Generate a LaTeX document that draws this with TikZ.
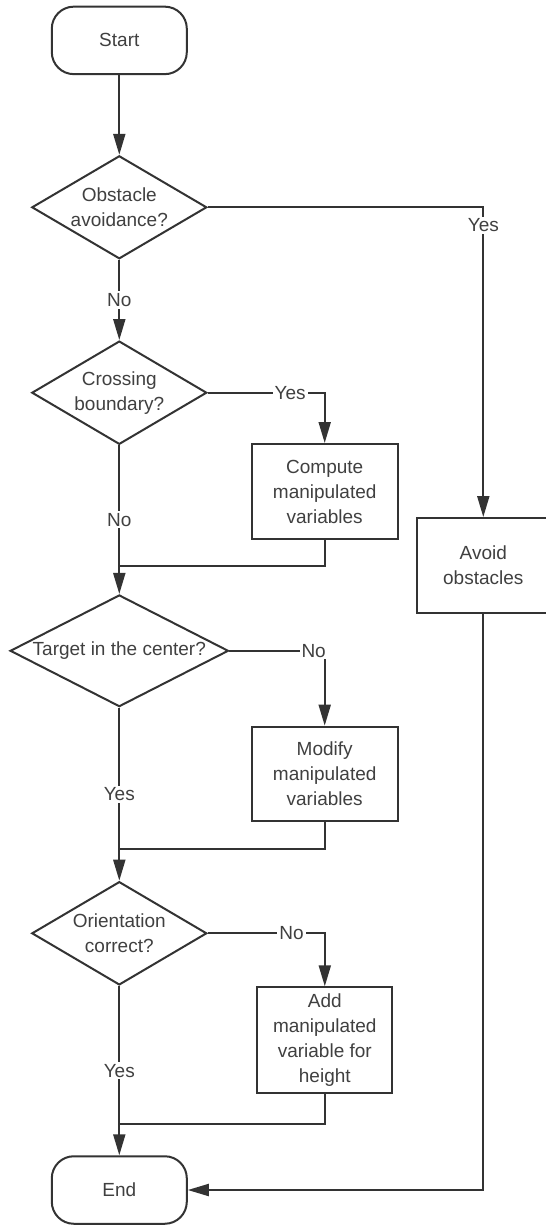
\documentclass[tikz,border=0pt]{standalone}
\usepackage{fontspec}
\setmainfont{Liberation Sans}
\usetikzlibrary{shapes.geometric,arrows.meta}
\definecolor{ln}{HTML}{333333}
\definecolor{tx}{HTML}{404040}
\begin{document}
\begin{tikzpicture}[x=1pt,y=-1pt,
  every node/.style={font=\fontsize{19}{25}\selectfont, text=tx},
  base/.style={draw=ln, line width=2pt, inner sep=0pt},
  terminal/.style={base, rectangle, rounded corners=22pt,
    minimum width=135pt, minimum height=67.5pt},
  decision/.style={base, diamond},
  process/.style={base, rectangle, align=center},
  txt/.style={align=center, inner sep=0pt},
  flow/.style={draw=ln, line width=2pt, -{Triangle[length=21pt,width=12pt]}},
  link/.style={draw=ln, line width=2pt},
  lbl/.style={fill=white, inner sep=2pt}]

% page frame
\clip (0,0) rectangle (546,1226);
\fill[white] (0,0) rectangle (546,1226);

% terminals
\node[terminal] (start) at (119.3,40.4) {Start};
\node[terminal] (end) at (119.3,1190) {End};

% decisions (outline, then wording on top)
\node[decision, minimum width=175pt, minimum height=103pt] (d1) at (119.3,207.3) {};
\node[txt] (d1t) at (d1) {Obstacle\\avoidance?};
\node[decision, minimum width=175pt, minimum height=103.3pt] (d2) at (119.3,392.7) {};
\node[txt] (d2t) at (d2) {Crossing\\boundary?};
\node[decision, minimum width=218.3pt, minimum height=111.7pt] (d3) at (119.3,650.8) {};
\node[txt] (d3t) at (d3) {Target in the center?};
\node[decision, minimum width=175pt, minimum height=103.3pt] (d4) at (119.3,933.3) {};
\node[txt] (d4t) at (d4) {Orientation\\correct?};

% actions
\node[process, minimum width=146pt, minimum height=95pt] (compute) at (324.7,491.5)
  {Compute\\manipulated\\variables};
\node[process, minimum width=146pt, minimum height=94.3pt] (modify) at (324.7,773.8)
  {Modify\\manipulated\\variables};
\node[process, minimum width=135pt, minimum height=105.4pt] (add) at (324.8,1040)
  {Add\\manipulated\\variable for\\height};
\node[process, minimum width=132pt, minimum height=94.7pt] (avoid) at (483.3,565.4)
  {Avoid\\obstacles};

% merge points on the main axis
\coordinate (m1) at (119.3,565.7);
\coordinate (m2) at (119.3,849.3);
\coordinate (m3) at (119.3,1124.3);

% connectors
\draw[flow] (start.south) -- (d1.north);
\draw[flow] (d1.east) -| node[lbl, pos=0.529] (y1) {Yes} (avoid.north);
\draw[flow] (d1.south) -- node[lbl, midway] (n1) {No} (d2.north);
\draw[flow] (d2.east) -| node[lbl, pos=0.352] (y2) {Yes} (compute.north);
\draw[flow] (d2.south) -- node[lbl, midway] (n2) {No} (d3.north);
\draw[link] (compute.south) |- (m1);
\draw[flow] (d3.east) -| node[lbl, pos=0.442] (n3) {No} (modify.north);
\draw[flow] (d3.south) -- node[lbl, midway] (y3) {Yes} (d4.north);
\draw[link] (modify.south) |- (m2);
\draw[flow] (d4.east) -| node[lbl, pos=0.358] (n4) {No} (add.north);
\draw[flow] (d4.south) -- node[lbl, midway] (y4) {Yes} (end.north);
\draw[link] (add.south) |- (m3);
\draw[flow] (avoid.south) |- (end.east);
\end{tikzpicture}
\end{document}
